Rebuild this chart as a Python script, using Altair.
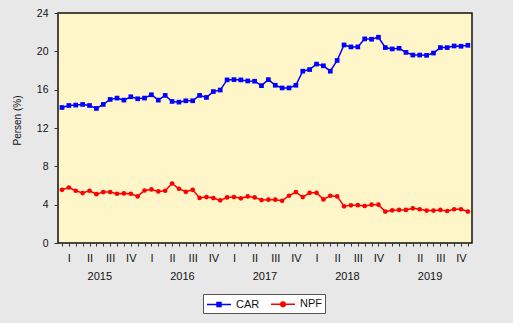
import altair as alt
import pandas as pd

# ---- data (monthly, Jan 2015 - Dec 2019) ----
car = [14.14, 14.35, 14.39, 14.46, 14.35, 14.04, 14.46, 14.98, 15.12, 14.91, 15.26, 15.05,
       15.12, 15.47, 14.91, 15.40, 14.77, 14.70, 14.84, 14.84, 15.40, 15.19, 15.80, 15.96,
       17.02, 17.05, 17.02, 16.91, 16.88, 16.42, 17.05, 16.46, 16.18, 16.18, 16.46, 17.93,
       18.10, 18.67, 18.49, 17.93, 19.05, 20.67, 20.46, 20.46, 21.30, 21.26, 21.47, 20.39,
       20.25, 20.32, 19.89, 19.61, 19.61, 19.58, 19.82, 20.39, 20.39, 20.56, 20.53, 20.63]
npf = [5.55, 5.79, 5.45, 5.21, 5.45, 5.10, 5.31, 5.31, 5.14, 5.17, 5.14, 4.86,
       5.48, 5.59, 5.38, 5.45, 6.21, 5.66, 5.34, 5.55, 4.70, 4.79, 4.69, 4.45,
       4.76, 4.79, 4.66, 4.86, 4.76, 4.48, 4.52, 4.52, 4.41, 4.93, 5.31, 4.79,
       5.24, 5.24, 4.55, 4.93, 4.86, 3.83, 3.93, 3.95, 3.86, 4.00, 4.00, 3.28,
       3.41, 3.45, 3.45, 3.62, 3.52, 3.38, 3.38, 3.45, 3.34, 3.52, 3.52, 3.28]
years = [2015, 2016, 2017, 2018, 2019]
quarters = ["I", "II", "III", "IV"]
series_names = ["CAR", "NPF"]
series_colors = ["#0000ff", "#ff0000"]
y_ticks = [0, 4, 8, 12, 16, 20, 24]

FONT = "Liberation Sans"
n = len(car)
idx = list(range(n))

df_car = pd.DataFrame({"idx": idx, "value": car, "series": "CAR"})
df_npf = pd.DataFrame({"idx": idx, "value": npf, "series": "NPF"})
df_years = pd.DataFrame({"idx": [5.5 + 12 * i for i in range(len(years))],
                         "label": [str(y) for y in years]})
df_leg = pd.DataFrame({"idx": [-50, -50], "value": [0, 0], "series": series_names})

q_arr = "[" + ",".join("'" + q + "'" for q in quarters) + "]"
label_expr = "datum.value % 3 == 1 ? " + q_arr + "[floor(datum.value / 3) % 4] : ''"
x_axis = alt.Axis(
    values=idx, title=None, domain=False, grid=False, ticks=True, tickSize=3,
    tickColor="#333", labelExpr=label_expr,
    labelOverlap=False, labelFont=FONT, labelFontSize=11, labelColor="#111",
    labelPadding=6, labelBaseline="top", labelFlush=False,
)
x_scale = alt.Scale(domain=[-0.58, 59.6], nice=False, zero=False)
y_axis = alt.Axis(
    values=y_ticks, title="Persen (%)", domain=False, grid=False, tickSize=4,
    tickColor="#333", labelFont=FONT, labelFontSize=10.5, labelColor="#111",
    labelPadding=6, titleFont=FONT, titleFontSize=10, titleFontWeight="normal",
    titleColor="#111", titlePadding=14, titleY=107,
)
y_scale = alt.Scale(domain=[0, 24], nice=False, zero=True)


def X():
    return alt.X("idx:Q", scale=x_scale, axis=x_axis)


def Y():
    return alt.Y("value:Q", scale=y_scale, axis=y_axis)


line_car = alt.Chart(df_car).mark_line(color=series_colors[0], strokeWidth=1.5).encode(x=X(), y=Y())
pts_car = alt.Chart(df_car).mark_square(color=series_colors[0], size=22, opacity=1).encode(x=X(), y=Y())
line_npf = alt.Chart(df_npf).mark_line(color=series_colors[1], strokeWidth=1.5).encode(x=X(), y=Y())
pts_npf = alt.Chart(df_npf).mark_circle(color=series_colors[1], size=22, opacity=1).encode(x=X(), y=Y())

year_text = alt.Chart(df_years).mark_text(
    font=FONT, fontSize=11, color="#111", baseline="middle", align="center"
).encode(x=X(), y=alt.value(263.5), text="label:N")

sq_path = "M-2,0L2,0M-0.33,-0.33H0.33V0.33H-0.33ZM-0.15,-0.15H0.15V0.15H-0.15Z"
ci_path = ("M-2,0L2,0M-0.38,0A0.38,0.38,0,1,0,0.38,0A0.38,0.38,0,1,0,-0.38,0Z"
           "M-0.15,0A0.15,0.15,0,1,0,0.15,0A0.15,0.15,0,1,0,-0.15,0Z")
leg = alt.Legend(title=None, orient="none", legendX=145, legendY=281, direction="horizontal",
                 fillColor="white", strokeColor="#555", padding=3, labelFont=FONT,
                 labelFontSize=11, labelColor="#111", symbolSize=144, symbolStrokeWidth=1.5,
                 symbolOffset=6, labelOffset=10, columnPadding=8)
legend_layer = alt.Chart(df_leg).mark_point(clip=True, filled=False, strokeWidth=1.5, opacity=1).encode(
    x=X(), y=Y(),
    color=alt.Color("series:N", scale=alt.Scale(domain=series_names, range=series_colors), legend=leg),
    shape=alt.Shape("series:N", scale=alt.Scale(domain=series_names, range=[sq_path, ci_path]), legend=leg),
)

chart = alt.layer(line_car, line_npf, pts_car, pts_npf, year_text, legend_layer).properties(
    width=414, height=230,
    autosize=alt.AutoSizeParams(type="none"),
    padding={"left": 58, "top": 13, "right": 41, "bottom": 80},
    background="#e8e8e8",
).configure_view(
    fill="#fef5c8", stroke="#111", strokeWidth=1.5
)

chart.save("out.html", embed_options={"renderer": "svg", "actions": False})
